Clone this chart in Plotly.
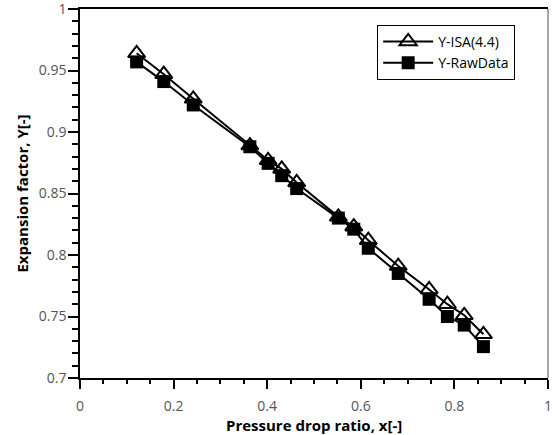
import plotly.graph_objects as go

x_ratio = [0.121, 0.179, 0.242, 0.363, 0.402, 0.431, 0.463, 0.552, 0.585, 0.616, 0.680, 0.746, 0.785, 0.821, 0.862]
y_isa = [0.964, 0.947, 0.927, 0.889, 0.877, 0.870, 0.859, 0.831, 0.823, 0.812, 0.791, 0.772, 0.760, 0.751, 0.7355]
y_raw = [0.957, 0.941, 0.922, 0.888, 0.8745, 0.8645, 0.854, 0.830, 0.821, 0.8055, 0.785, 0.764, 0.750, 0.743, 0.7255]

x_ticks = [0, 0.2, 0.4, 0.6, 0.8, 1]
x_labels = ["0", "0.2", "0.4", "0.6", "0.8", "1"]
y_ticks = [0.7, 0.75, 0.8, 0.85, 0.9, 0.95, 1]
y_labels = ["0.7", "0.75", "0.8", "0.85", "0.9", "0.95", "1"]

x_title = "<b>Pressure drop ratio, x[-]</b>"
y_title = "<b>Expansion factor, Y[-]</b>"

FONT = "Open Sans, DejaVu Sans, sans-serif"

fig = go.Figure()
fig.add_trace(go.Scatter(
    x=x_ratio, y=y_isa, name="Y-ISA(4.4)", mode="lines+markers",
    line=dict(color="black", width=2),
    marker=dict(symbol="triangle-up-open", size=15, color="black", line=dict(width=2, color="black")),
))
fig.add_trace(go.Scatter(
    x=x_ratio, y=y_raw, name="Y-RawData", mode="lines+markers",
    line=dict(color="black", width=2),
    marker=dict(symbol="square", size=13, color="black"),
))

fig.update_layout(
    width=556, height=435,
    margin=dict(l=80, r=8, t=9, b=57),
    plot_bgcolor="white", paper_bgcolor="white",
    font=dict(family=FONT, size=13, color="black"),
    legend=dict(
        x=0.635, y=0.957, xanchor="left", yanchor="top",
        bordercolor="black", borderwidth=1, bgcolor="white",
        font=dict(size=14, color="black"), itemwidth=50,
        tracegroupgap=0,
    ),
    xaxis=dict(
        range=[0, 1], tickvals=x_ticks, ticktext=x_labels,
        automargin=False, ticklabeloverflow="allow", ticklabelstandoff=5,
        showgrid=False, zeroline=False,
        showline=True, linecolor="black", linewidth=1.5, mirror=True,
        ticks="outside", ticklen=9, tickwidth=1.5, tickcolor="black",
        minor=dict(ticks="outside", dtick=0.05, ticklen=4, tickwidth=1.5, tickcolor="black"),
        tickfont=dict(size=14, color="#555555"),
    ),
    yaxis=dict(
        range=[0.7, 1], tickvals=y_ticks, ticktext=y_labels,
        automargin=False, ticklabeloverflow="allow", ticklabelstandoff=-1,
        showgrid=False, zeroline=False,
        showline=True, linecolor="black", linewidth=1.5, mirror=False,
        ticks="outside", ticklen=10, tickwidth=1.5, tickcolor="black",
        minor=dict(ticks="outside", dtick=0.01, ticklen=6, tickwidth=1.5, tickcolor="black"),
        tickfont=dict(size=14, color="#555555"),
    ),
    shapes=[dict(type="line", xref="paper", yref="paper", x0=1, x1=1, y0=0, y1=1,
                 line=dict(color="#888888", width=1.5))],
    annotations=[
        dict(text=x_title, xref="paper", yref="paper", x=0.5, y=-0.127,
             xanchor="center", yanchor="middle", showarrow=False,
             font=dict(size=15, color="black")),
        dict(text=y_title, xref="paper", yref="paper", x=-0.126, y=0.5,
             xanchor="center", yanchor="middle", showarrow=False, textangle=-90,
             font=dict(size=15, color="black")),
    ],
)

fig.write_html("out.html", config={"displayModeBar": False},
               post_script="document.body.style.margin='0';")
